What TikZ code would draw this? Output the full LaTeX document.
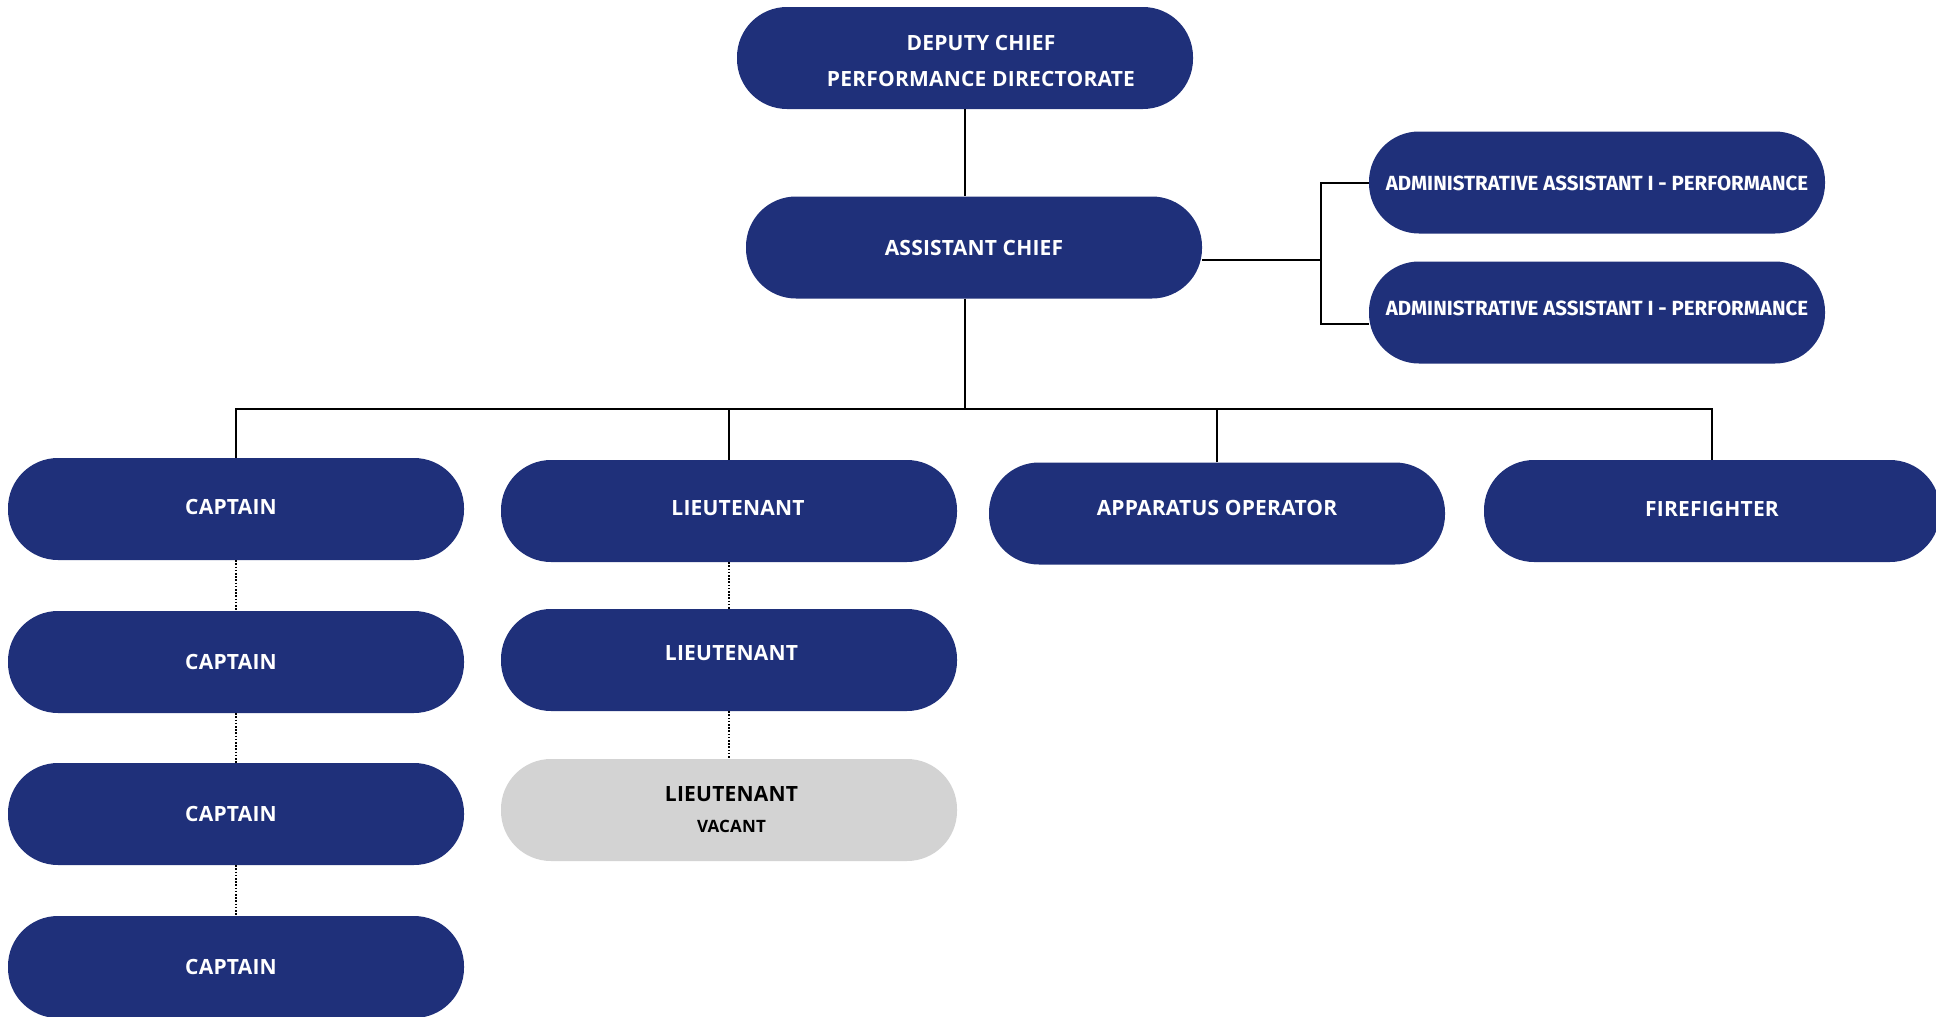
\documentclass[tikz,border=0pt]{standalone}
\usepackage{fontspec}
\setmainfont{Open Sans}[LetterSpace=1]
\newfontfamily\adminfont{Fira Sans}
\definecolor{navy}{RGB}{31,48,122}
\definecolor{vacgray}{RGB}{211,211,211}
\tikzset{
  box/.style={rectangle, rounded corners=50pt, fill=navy, draw=none,
    minimum width=456pt, minimum height=102pt, inner sep=0pt,
    text=white, align=center, font=\bfseries\fontsize{21}{36}\selectfont},
  tshift/.style={text height=15pt, text depth=#1},
  admin/.style={box, font=\adminfont\bfseries\fontsize{20.5}{24}\selectfont},
  vacbox/.style={box, fill=vacgray, text=black},
  link/.style={line width=2pt, black},
  dotlink/.style={line width=2pt, black, dash pattern=on 1.6pt off 1.6pt}
}
\begin{document}
\begin{tikzpicture}[x=1pt,y=-1pt]
\useasboundingbox (0,0) rectangle (1936,1017);
\clip (0,0) rectangle (1936,1017);
% top
\node[box] (dep) at (965,58) {\rule{0pt}{21.2pt}\hspace*{32pt}DEPUTY CHIEF\\\hspace*{32pt}PERFORMANCE DIRECTORATE};
\node[box, text height=16.4pt, text depth=0pt] (ac) at (974,247.5) {ASSISTANT CHIEF};
\node[admin, text height=16.5pt, text depth=0pt] (ad1) at (1597,182.5) {ADMINISTRATIVE ASSISTANT I - PERFORMANCE};
\node[admin, text depth=8.4pt] (ad2) at (1597,312.5) {ADMINISTRATIVE ASSISTANT I - PERFORMANCE};
% row
\node[box, tshift=3.6pt] (cap1) at (236,509) {\hspace*{-10pt}CAPTAIN};
\node[box, tshift=6pt] (lt1) at (729,511) {\hspace*{18pt}LIEUTENANT};
\node[box, tshift=11pt] (ap) at (1217,513.5) {APPARATUS OPERATOR};
\node[box, tshift=3.6pt] (ff) at (1712,511) {FIREFIGHTER};
% captains
\node[box, tshift=1pt] (cap2) at (236,662) {\hspace*{-10pt}CAPTAIN};
\node[box, tshift=1pt] (cap3) at (236,814) {\hspace*{-10pt}CAPTAIN};
\node[box, tshift=1pt] (cap4) at (236,967) {\hspace*{-10pt}CAPTAIN};
% lieutenants
\node[box, tshift=13.6pt] (lt2) at (729,660) {\hspace*{5pt}LIEUTENANT};
\node[vacbox, font=\bfseries\fontsize{21}{37}\selectfont] (lt3) at (729,810) {\hspace*{5pt}LIEUTENANT\\[-6pt]\hspace*{5pt}{\fontsize{17}{20}\selectfont VACANT}};
% coordinates
\coordinate (bus) at (965,409);
\coordinate (bj) at (1321,260);
% connectors
\draw[link] (dep.south) -- (dep.south |- ac.north);
\draw[link] (bus |- ac.south) -- (bus);
\draw[link] ([yshift=-12.5pt]ac.east) -- (bj);
\draw[link] (ad1.west) -| ([xshift=-48pt]ad2.west) |- ([yshift=-11pt]ad2.west);
\draw[link] (cap1.north) -- (cap1.north |- bus) -- (ff.north |- bus) -- (ff.north);
\draw[link] (lt1.north) -- (lt1.north |- bus);
\draw[link] (ap.north) -- (ap.north |- bus);
\draw[dotlink] (cap1.south) -- (cap2.north);
\draw[dotlink] (cap2.south) -- (cap3.north);
\draw[dotlink] (cap3.south) -- (cap4.north);
\draw[dotlink] (lt1.south) -- (lt2.north);
\draw[dotlink] (lt2.south) -- (lt3.north);
\end{tikzpicture}
\end{document}
